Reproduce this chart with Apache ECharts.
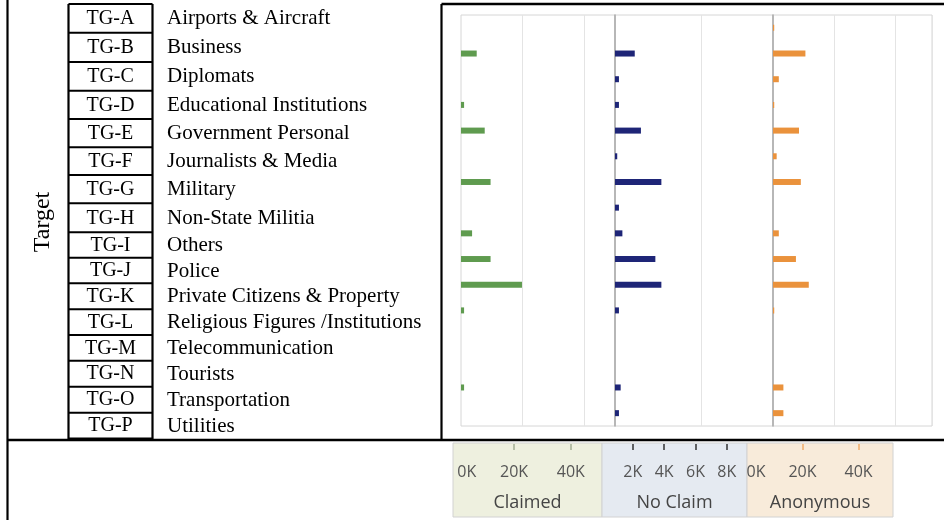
<!DOCTYPE html>
<html><head><meta charset="utf-8">
<script src="https://cdn.jsdelivr.net/npm/echarts@6/dist/echarts.min.js"></script>
<style>html,body{margin:0;padding:0;background:#fff}#c{width:944px;height:520px}</style>
</head><body><div id="c"></div>
<script>
// ---------- data ----------
const codes = ['TG-A','TG-B','TG-C','TG-D','TG-E','TG-F','TG-G','TG-H','TG-I','TG-J','TG-K','TG-L','TG-M','TG-N','TG-O','TG-P'];
const targetNames = ['Airports & Aircraft','Business','Diplomats','Educational Institutions','Government Personal','Journalists & Media','Military','Non-State Militia','Others','Police','Private Citizens & Property','Religious Figures /Institutions','Telecommunication','Tourists','Transportation','Utilities'];
const tableTitle = 'Target';
const panelNames = ['Claimed','No Claim','Anonymous'];
const claimed   = [0, 5100, 0, 1000, 7700, 0, 9600, 0, 3600, 9600, 19800, 1000, 0, 0, 1000, 0];
const noClaim   = [0, 1150, 230, 230, 1510, 130, 2700, 230, 430, 2350, 2700, 230, 0, 0, 330, 230];
const anonymous = [400, 10600, 1900, 400, 8500, 1200, 9100, 0, 1900, 7500, 11700, 400, 0, 0, 3400, 3400];
const claimedTicks = [0, 20000, 40000];
const noClaimTicks = [2000, 4000, 6000, 8000];
const anonymousTicks = [0, 20000, 40000];

// ---------- layout / style ----------
const rowLines = [4, 32.7, 62, 90.7, 119, 147.3, 175, 203.3, 232.3, 257.7, 283.3, 309.3, 335, 360.7, 386.7, 412.7, 438.5];
const serif = '"Liberation Serif", "Times New Roman", serif';
const sans = '"Open Sans", "Noto Sans", sans-serif';
const colors = ['#5f9b4f', '#1e2577', '#ea923c'];
const panels = [
  {left: 461, width: 154, max: 50000, interval: 20000},
  {left: 615, width: 158, max: 9200,  interval: 5000},
  {left: 773, width: 159, max: 52000, interval: 20000}
];
const strips = [
  {bgLeft: 453, bgWidth: 149, left: 457.3, width: 144.7, max: 51000, interval: 20000, ticks: claimedTicks, bg: '#eef0df', tick: '#a3ad94', minAlign: 'left'},
  {bgLeft: 602, bgWidth: 145, left: 601.5, width: 145.5, max: 9290, interval: 2000, ticks: noClaimTicks, bg: '#e5eaf1', tick: '#333', minAlign: 'center'},
  {bgLeft: 747, bgWidth: 146, left: 746.5, width: 146.5, max: 52300, interval: 20000, ticks: anonymousTicks, bg: '#f8ebda', tick: '#efad6b', minAlign: 'left'}
];
const seriesData = [claimed, noClaim, anonymous];

const grids = [], xAxes = [], yAxes = [], series = [];
panels.forEach((p, i) => {
  grids.push({left: p.left, top: 15, width: p.width, height: 411, show: true, borderColor: '#d6d6d6', borderWidth: 1, backgroundColor: 'transparent'});
  xAxes.push({type: 'value', gridIndex: i, min: 0, max: p.max, interval: p.interval,
    axisLine: {show: false}, axisTick: {show: false}, axisLabel: {show: false},
    splitLine: {show: true, showMinLine: false, lineStyle: {color: '#e4e4e4', width: 1}}});
  yAxes.push({type: 'category', gridIndex: i, data: codes, inverse: true,
    axisLine: {show: i > 0, lineStyle: {color: '#a9a9a9', width: 1.5}},
    axisTick: {show: false}, axisLabel: {show: false}, splitLine: {show: false}});
  series.push({type: 'bar', name: panelNames[i], xAxisIndex: i, yAxisIndex: i, data: seriesData[i],
    barWidth: 6, itemStyle: {color: colors[i]}, silent: true});
});
strips.forEach((s, i) => {
  const gi = grids.length;
  grids.push({left: s.left, top: 443, width: s.width, height: 1, show: false});
  xAxes.push({type: 'value', gridIndex: gi, min: 0, max: s.max, interval: s.interval, position: 'top',
    axisLine: {show: false},
    axisTick: {show: true, inside: true, length: 6, lineStyle: {color: s.tick, width: 1.5}, customValues: s.ticks.filter(v => v > 0)},
    axisLabel: {show: true, inside: true, margin: 21, color: '#555', fontSize: 16, fontFamily: sans, customValues: s.ticks,
      alignMinLabel: s.minAlign, hideOverlap: false,
      formatter: v => s.ticks.indexOf(v) >= 0 ? (v / 1000) + 'K' : ''},
    splitLine: {show: false}});
  yAxes.push({type: 'value', gridIndex: gi, min: 0, max: 1, show: false});
});
strips.forEach((s) => {
  grids.push({left: s.bgLeft, top: 443, width: s.bgWidth, height: 74, show: true, backgroundColor: s.bg, borderColor: '#d2d2d2', borderWidth: 1});
});

// ---------- table drawn as graphics ----------
const g = [];
const line = (x1, y1, x2, y2, w) => g.push({type: 'line', shape: {x1, y1, x2, y2}, style: {stroke: '#000', lineWidth: w || 2}, silent: true, z: 10});
line(7.5, 0, 7.5, 520, 2.2);
line(68.5, 4, 68.5, 439, 2.2);
line(152.5, 4, 152.5, 439, 2.2);
line(441.5, 4, 441.5, 440, 2.2);
line(441.5, 4, 944, 4, 2.4);
line(7.5, 440, 944, 440, 2.4);
rowLines.forEach(y => line(68.5, y, 152.5, y, 2));
codes.forEach((c, i) => {
  const yc = (rowLines[i] + rowLines[i + 1]) / 2 + 0.5;
  g.push({type: 'text', x: 110.5, y: yc, silent: true, z: 10,
    style: {text: c, font: '20px ' + serif, fill: '#000', align: 'center', verticalAlign: 'middle'}});
  g.push({type: 'text', x: 167, y: yc, silent: true, z: 10,
    style: {text: targetNames[i], font: '21px ' + serif, fill: '#000', align: 'left', verticalAlign: 'middle'}});
});
g.push({type: 'text', x: 43, y: 222, rotation: Math.PI / 2, silent: true, z: 10,
  style: {text: tableTitle, font: '24px ' + serif, fill: '#000', align: 'center', verticalAlign: 'middle'}});
// strip panel titles, centred under each strip
strips.forEach((s, i) => {
  g.push({type: 'text', x: s.bgLeft + s.bgWidth / 2, y: 503, silent: true, z: 10,
    style: {text: panelNames[i], font: '18px ' + sans, fill: '#444', align: 'center', verticalAlign: 'middle'}});
});

const chart = echarts.init(document.getElementById('c'), null, {renderer: 'canvas'});
chart.setOption({
  animation: false,
  backgroundColor: '#fff',
  grid: grids, xAxis: xAxes, yAxis: yAxes, series: series,
  graphic: g
});
</script></body></html>
